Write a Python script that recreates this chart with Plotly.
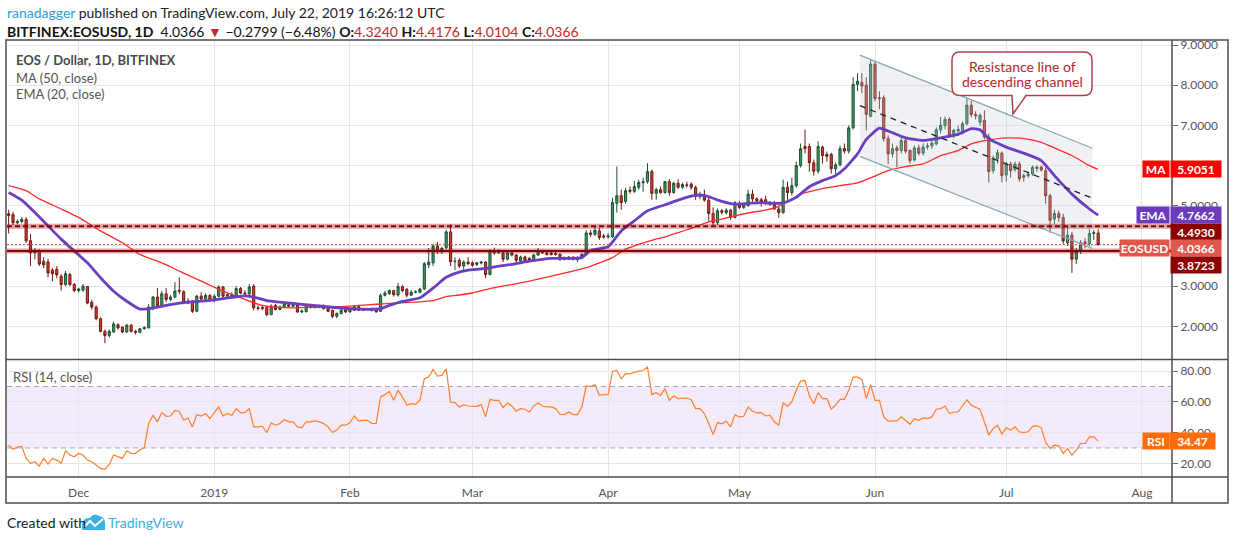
import pandas as pd
import plotly.graph_objects as go

# ---------------- data ----------------
start_date = "2018-11-15"

open_px = [
    # Nov 15-30
    4.80, 4.78, 4.58, 4.61, 4.66, 4.13, 3.83, 3.87, 3.62, 3.60, 3.40, 3.42, 3.25, 3.04, 3.29, 3.04,
    # Dec
    2.89, 2.90, 2.99, 2.60, 2.48, 2.19, 1.875, 1.77, 1.86, 2.04, 1.98, 1.86, 2.03, 1.88, 1.85, 1.94,
    1.96, 2.47, 2.73, 2.52, 2.81, 2.67, 2.73, 2.90, 2.86, 2.58, 2.63, 2.375, 2.75, 2.68, 2.77,
    # Jan
    2.64, 2.75, 2.98, 2.75, 2.79, 2.73, 2.94, 2.83, 2.81, 3.00, 2.46, 2.47, 2.47, 2.29, 2.52, 2.42,
    2.48, 2.54, 2.50, 2.52, 2.36, 2.37, 2.49, 2.47, 2.475, 2.49, 2.46, 2.40, 2.25, 2.32, 2.41,
    # Feb
    2.36, 2.40, 2.49, 2.40, 2.43, 2.43, 2.42, 2.375, 2.77, 2.81, 2.89, 2.78, 2.99, 2.925, 2.775, 2.85,
    2.85, 2.93, 3.53, 3.58, 4.00, 3.85, 3.96, 4.35, 3.61, 3.64, 3.50, 3.60,
    # Mar
    3.58, 3.54, 3.575, 3.60, 3.29, 3.875, 3.83, 3.83, 3.67, 3.825, 3.775, 3.625, 3.725, 3.69, 3.64, 3.775,
    3.875, 3.825, 3.825, 3.81, 3.79, 3.71, 3.67, 3.725, 3.66, 3.71, 3.79, 4.325, 4.29, 4.375, 4.25,
    # Apr
    4.225, 4.225, 5.06, 5.25, 5.11, 5.39, 5.36, 5.46, 5.575, 5.60, 5.85, 5.31, 5.40, 5.33, 5.60,
    5.33, 5.56, 5.46, 5.52, 5.54, 5.46, 5.23, 5.27, 5.14, 4.81, 4.58, 4.875, 4.83, 4.89, 4.71,
    # May
    5.06, 4.96, 5.00, 5.29, 5.17, 5.15, 5.15, 5.06, 5.075, 4.92, 4.83, 5.46, 5.33, 5.50, 6.00, 6.475,
    6.475, 6.07, 5.86, 6.46, 6.275, 6.275, 5.92, 6.02, 6.425, 6.36, 6.94, 8.02, 8.07, 8.00, 7.225,
    # Jun
    8.525, 7.685, 7.69, 6.67, 6.29, 6.44, 6.375, 6.625, 6.375, 6.14, 6.44, 6.31, 6.46, 6.49, 6.54,
    6.89, 7.00, 7.15, 6.75, 6.86, 6.81, 7.04, 7.50, 7.27, 7.08, 7.125, 6.71, 5.875, 6.17, 6.31,
    # Jul 1-22
    5.77, 6.04, 5.90, 6.04, 5.71, 5.75, 5.79, 5.93, 5.96, 5.875, 5.25, 4.67, 4.81, 4.71, 4.08, 4.27,
    3.67, 3.875, 4.10, 4.06, 4.31, 4.3240,
]

high_px = [
    4.90, 4.85, 4.66, 4.72, 4.72, 4.30, 3.95, 3.92, 3.72, 3.68, 3.45, 3.50, 3.30, 3.38, 3.33, 3.08,
    2.96, 3.05, 3.00, 2.66, 2.52, 2.22, 1.92, 1.92, 2.12, 2.08, 2.00, 2.06, 2.05, 1.90, 1.96, 2.00,
    2.55, 2.75, 2.95, 2.88, 2.95, 2.78, 3.10, 3.22, 2.90, 2.70, 2.65, 2.78, 2.85, 2.82, 2.80,
    2.80, 3.02, 3.00, 2.82, 2.85, 3.00, 2.98, 2.90, 3.05, 3.05, 2.52, 2.50, 2.50, 2.55, 2.56, 2.52,
    2.60, 2.58, 2.60, 2.55, 2.42, 2.52, 2.53, 2.52, 2.54, 2.55, 2.48, 2.42, 2.34, 2.43, 2.44,
    2.43, 2.52, 2.50, 2.46, 2.46, 2.45, 2.44, 2.82, 2.88, 2.92, 2.91, 3.08, 3.02, 2.95, 2.90, 2.90,
    2.96, 3.60, 3.95, 4.05, 4.10, 3.98, 4.40, 4.54, 3.72, 3.70, 3.64, 3.72,
    3.62, 3.60, 3.62, 3.62, 3.92, 3.96, 3.92, 3.88, 3.86, 3.85, 3.80, 3.76, 3.76, 3.72, 3.80, 3.95,
    3.90, 3.90, 3.86, 3.86, 3.82, 3.74, 3.75, 3.74, 3.74, 3.82, 4.39, 4.40, 4.48, 4.45, 4.30,
    4.32, 5.20, 5.975, 5.40, 5.45, 5.48, 5.62, 5.65, 5.70, 6.06, 5.90, 5.45, 5.48, 5.62, 5.66,
    5.60, 5.66, 5.58, 5.60, 5.58, 5.50, 5.35, 5.40, 5.20, 4.96, 4.93, 4.92, 4.94, 4.92, 5.12,
    5.12, 5.06, 5.40, 5.40, 5.22, 5.20, 5.25, 5.12, 5.12, 5.00, 5.65, 5.60, 5.70, 6.10, 6.55, 6.90,
    6.55, 6.15, 6.60, 6.50, 6.35, 6.32, 6.08, 6.50, 6.55, 7.00, 8.20, 8.30, 8.30, 8.20, 8.625,
    8.60, 7.85, 7.75, 6.75, 6.55, 6.50, 6.75, 6.70, 6.40, 6.50, 6.52, 6.55, 6.56, 6.62, 6.95,
    7.21, 7.22, 7.20, 6.92, 7.00, 7.10, 7.67, 7.62, 7.35, 7.30, 7.375, 6.80, 6.25, 6.40, 6.35,
    6.10, 6.10, 6.10, 6.10, 5.80, 5.85, 6.00, 6.00, 6.00, 5.95, 5.30, 4.90, 4.88, 4.80, 4.50, 4.35,
    3.95, 4.15, 4.20, 4.42, 4.40, 4.4176,
]

low_px = [
    4.31, 4.52, 4.54, 4.57, 4.08, 3.50, 3.67, 3.50, 3.45, 3.22, 3.12, 3.20, 2.89, 3.00, 3.00, 2.85,
    2.84, 2.86, 2.55, 2.42, 2.15, 1.85, 1.58, 1.72, 1.84, 1.92, 1.83, 1.84, 1.85, 1.80, 1.83, 1.92,
    1.95, 2.40, 2.45, 2.50, 2.60, 2.62, 2.70, 2.80, 2.55, 2.55, 2.33, 2.35, 2.65, 2.65, 2.62,
    2.60, 2.72, 2.72, 2.72, 2.70, 2.70, 2.80, 2.78, 2.78, 2.40, 2.40, 2.40, 2.25, 2.28, 2.40, 2.40,
    2.45, 2.47, 2.48, 2.33, 2.33, 2.34, 2.44, 2.44, 2.45, 2.42, 2.35, 2.20, 2.20, 2.30, 2.33,
    2.34, 2.38, 2.38, 2.38, 2.40, 2.37, 2.34, 2.36, 2.74, 2.78, 2.74, 2.74, 2.85, 2.72, 2.76, 2.82,
    2.82, 2.90, 3.45, 3.50, 3.80, 3.80, 3.92, 3.50, 3.40, 3.45, 3.40, 3.52,
    3.48, 3.50, 3.54, 3.20, 3.27, 3.78, 3.80, 3.60, 3.64, 3.74, 3.60, 3.58, 3.62, 3.60, 3.62, 3.76,
    3.80, 3.76, 3.76, 3.76, 3.62, 3.64, 3.65, 3.64, 3.60, 3.68, 3.77, 4.22, 4.25, 4.15, 4.18,
    4.18, 4.20, 4.83, 4.90, 5.05, 5.30, 5.32, 5.40, 5.35, 5.55, 5.15, 5.15, 5.30, 5.30, 5.25,
    5.30, 5.42, 5.42, 5.45, 5.40, 5.15, 5.16, 5.10, 4.625, 4.50, 4.52, 4.78, 4.78, 4.65, 4.68,
    4.92, 4.92, 4.98, 5.10, 5.05, 4.98, 5.02, 5.00, 4.90, 4.70, 4.80, 5.15, 5.25, 5.45, 5.95, 6.30,
    5.85, 5.75, 5.80, 6.05, 6.10, 5.80, 5.75, 5.98, 6.30, 6.30, 6.90, 7.85, 7.80, 6.875, 7.20,
    7.60, 7.40, 6.60, 6.04, 6.20, 5.96, 6.30, 6.30, 6.05, 6.10, 6.25, 6.25, 6.40, 6.42, 6.50,
    6.80, 6.90, 6.70, 6.68, 6.80, 6.78, 7.00, 7.20, 7.15, 7.00, 6.65, 5.58, 5.80, 6.05, 5.58,
    5.60, 5.70, 5.85, 5.60, 5.60, 5.70, 5.75, 5.85, 5.85, 5.05, 4.33, 4.55, 4.60, 4.05, 4.00, 3.33,
    3.55, 3.80, 3.95, 4.00, 4.15, 4.0104,
]

close_px = [
    4.76, 4.58, 4.61, 4.66, 4.13, 3.83, 3.87, 3.55, 3.53, 3.33, 3.31, 3.28, 3.04, 3.31, 3.04, 2.89,
    2.93, 3.00, 2.58, 2.48, 2.19, 1.875, 1.77, 1.875, 2.06, 1.96, 1.86, 2.03, 1.875, 1.85, 1.94, 1.97,
    2.48, 2.73, 2.52, 2.81, 2.67, 2.73, 2.88, 2.875, 2.58, 2.63, 2.375, 2.75, 2.68, 2.77, 2.64,
    2.75, 2.98, 2.75, 2.79, 2.73, 2.94, 2.83, 2.81, 2.98, 2.46, 2.45, 2.45, 2.29, 2.50, 2.42, 2.48,
    2.56, 2.50, 2.54, 2.36, 2.38, 2.50, 2.47, 2.49, 2.51, 2.44, 2.375, 2.25, 2.325, 2.40, 2.36,
    2.41, 2.49, 2.40, 2.44, 2.42, 2.40, 2.36, 2.77, 2.83, 2.89, 2.79, 2.99, 2.89, 2.775, 2.85, 2.855,
    2.925, 3.56, 3.60, 4.00, 3.86, 3.94, 4.35, 3.61, 3.62, 3.50, 3.60, 3.56,
    3.52, 3.58, 3.60, 3.29, 3.875, 3.83, 3.86, 3.67, 3.83, 3.775, 3.64, 3.725, 3.64, 3.64, 3.775, 3.89,
    3.83, 3.79, 3.79, 3.79, 3.67, 3.67, 3.725, 3.67, 3.71, 3.79, 4.325, 4.29, 4.39, 4.21, 4.225,
    4.25, 5.08, 5.25, 5.08, 5.375, 5.36, 5.475, 5.58, 5.60, 5.85, 5.31, 5.40, 5.33, 5.60, 5.33,
    5.56, 5.46, 5.53, 5.51, 5.46, 5.23, 5.27, 5.14, 4.81, 4.58, 4.875, 4.84, 4.89, 4.71, 5.075,
    4.96, 5.02, 5.29, 5.17, 5.125, 5.11, 5.06, 5.04, 4.92, 4.83, 5.46, 5.33, 5.50, 6.00, 6.42, 6.42,
    6.07, 5.86, 6.475, 6.25, 6.23, 5.92, 6.02, 6.42, 6.36, 6.94, 8.02, 8.10, 7.98, 7.275, 8.525,
    7.67, 7.67, 6.67, 6.29, 6.42, 6.375, 6.625, 6.36, 6.125, 6.44, 6.31, 6.46, 6.49, 6.56, 6.89,
    7.00, 7.15, 6.75, 6.875, 6.90, 7.04, 7.50, 7.27, 7.24, 7.25, 6.71, 5.85, 6.19, 6.32, 5.75,
    6.04, 5.875, 6.04, 5.67, 5.75, 5.79, 5.96, 5.96, 5.89, 5.25, 4.64, 4.81, 4.71, 4.125, 4.27, 3.67,
    3.875, 4.08, 4.06, 4.31, 4.33, 4.0366,
]

rsi_vals = [
    31.8, 29.2, 30.5, 31.0, 23.2, 20.0, 21.0, 18.2, 23.2, 19.5, 23.2, 22.1, 20.0, 28.2, 25.4, 24.3,
    26.4, 25.4, 22.1, 21.0, 18.9, 16.7, 16.1, 19.3, 25.4, 24.3, 23.2, 28.2, 26.4, 26.4, 28.8, 30.1,
    45.9,
    51.3, 47.0, 53.0, 50.6, 50.8, 54.5, 53.9, 48.0, 49.5, 43.7, 51.7, 50.8, 52.4, 49.1, 53.0, 56.7,
    50.8, 52.4, 51.3, 55.6, 53.0, 53.0, 55.6, 43.7, 43.7, 44.1, 40.0, 46.3, 44.8, 45.9, 48.5, 47.0,
    47.0, 43.7, 43.3, 47.0, 47.0, 47.6, 47.0, 45.9, 43.7, 40.0, 41.6, 44.8, 44.8, 46.3, 50.8, 47.4,
    48.0, 48.0, 45.9, 45.9,
    63.2, 64.7, 66.8, 61.0, 67.5, 63.2, 57.8, 58.8, 58.4, 61.0,
    75.0, 76.1, 81.1, 76.8, 77.2, 81.5,
    59.9, 59.5, 56.7, 58.2, 57.3, 57.1, 57.1, 58.2, 50.2, 61.6, 61.0, 61.0, 56.2, 59.3, 57.3, 53.9,
    55.6, 55.2, 53.4, 57.3, 59.3, 57.3, 56.7, 56.7, 55.6, 51.9, 51.7, 53.4, 51.7, 51.7, 56.7,
    70.3, 70.1, 71.1, 64.2, 64.7, 64.7, 79.8, 80.4,
    75.0, 78.3, 78.3, 79.4, 80.0, 80.4, 82.6, 64.7, 66.0, 64.2, 68.6, 61.0, 63.8, 62.1, 62.5, 62.5,
    61.4, 55.6, 55.6, 52.4, 45.9, 38.7, 46.5, 45.7, 47.4, 43.7, 51.7, 50.2, 50.6, 56.7, 53.9, 52.8,
    53.0, 50.8, 51.3, 47.0, 44.8, 59.3, 57.1, 59.9, 67.5, 73.5, 74.0, 63.8, 58.8, 66.0, 62.1, 62.1,
    55.2, 57.8, 61.6, 61.6, 67.5, 76.1, 76.1, 74.6, 62.1, 71.1, 61.0, 61.0, 50.2, 47.4, 47.6, 47.6,
    50.2, 47.6, 45.4, 49.1, 48.0, 49.5, 49.1, 50.2, 55.2, 55.6, 57.3, 52.4, 53.4, 53.4, 57.8, 61.4,
    57.8, 56.7, 55.2, 47.0, 38.3, 42.6, 44.8, 39.0, 43.1, 41.6, 43.7, 40.5, 40.0, 40.5, 44.1, 44.4,
    43.1, 33.6, 29.7, 31.8, 31.4, 26.4, 29.7, 25.4, 28.6, 32.9, 32.9, 37.2, 37.2, 34.47,
]

ema_dates = ["2018-11-15", "2018-11-18", "2018-11-21", "2018-11-24", "2018-11-27", "2018-11-30",
             "2018-12-03", "2018-12-06", "2018-12-09", "2018-12-12", "2018-12-15", "2018-12-17",
             "2018-12-20", "2018-12-23", "2018-12-26", "2018-12-29",
             "2019-01-01", "2019-01-05", "2019-01-08", "2019-01-10", "2019-01-13", "2019-01-16",
             "2019-01-19", "2019-01-23", "2019-01-28",
             "2019-02-01", "2019-02-06", "2019-02-08", "2019-02-10", "2019-02-13", "2019-02-17",
             "2019-02-20", "2019-02-23", "2019-02-26",
             "2019-03-01", "2019-03-04", "2019-03-07", "2019-03-10", "2019-03-14", "2019-03-19",
             "2019-03-24", "2019-03-26", "2019-03-28",
             "2019-04-01", "2019-04-04", "2019-04-07", "2019-04-10", "2019-04-14", "2019-04-17",
             "2019-04-20", "2019-04-22", "2019-04-24", "2019-04-27", "2019-04-30",
             "2019-05-03", "2019-05-06", "2019-05-09", "2019-05-11", "2019-05-14", "2019-05-17",
             "2019-05-20", "2019-05-23", "2019-05-25", "2019-05-28", "2019-05-30",
             "2019-06-02", "2019-06-04", "2019-06-08", "2019-06-12", "2019-06-16", "2019-06-20",
             "2019-06-23", "2019-06-25", "2019-06-27",
             "2019-07-01", "2019-07-05", "2019-07-09", "2019-07-12", "2019-07-16", "2019-07-20",
             "2019-07-22"]
ema_vals = [5.33, 5.14, 4.83, 4.50, 4.17, 3.875,
            3.58, 3.21, 2.875, 2.625, 2.43, 2.44, 2.50, 2.56, 2.60, 2.625,
            2.66, 2.72, 2.76, 2.73, 2.64, 2.60, 2.57, 2.525, 2.475,
            2.44, 2.425, 2.44, 2.52, 2.62, 2.71, 2.95, 3.22, 3.35,
            3.41, 3.44, 3.50, 3.54, 3.62, 3.69, 3.69, 3.71, 3.89,
            3.98, 4.375, 4.625, 4.875, 5.025, 5.14, 5.24, 5.27, 5.225, 5.11, 5.04,
            5.06, 5.08, 5.06, 5.07, 5.21, 5.475, 5.625, 5.75, 5.92, 6.29, 6.65,
            6.93, 6.86, 6.69, 6.625, 6.69, 6.775, 6.92, 6.89, 6.67,
            6.46, 6.31, 6.125, 5.75, 5.29, 4.92, 4.7662]

ma_dates = ["2018-11-15", "2018-11-19", "2018-11-22", "2018-11-27",
            "2018-12-01", "2018-12-06", "2018-12-11", "2018-12-15", "2018-12-20", "2018-12-24", "2018-12-29",
            "2019-01-03", "2019-01-08", "2019-01-12", "2019-01-16", "2019-01-19", "2019-01-22", "2019-01-26",
            "2019-01-30",
            "2019-02-03", "2019-02-07", "2019-02-10", "2019-02-17", "2019-02-20", "2019-02-23", "2019-02-26",
            "2019-03-01", "2019-03-05", "2019-03-10", "2019-03-14", "2019-03-19", "2019-03-24", "2019-03-27",
            "2019-03-30",
            "2019-04-02", "2019-04-05", "2019-04-08", "2019-04-11", "2019-04-14", "2019-04-17", "2019-04-20",
            "2019-04-24", "2019-04-27", "2019-04-30",
            "2019-05-03", "2019-05-06", "2019-05-09", "2019-05-12", "2019-05-15", "2019-05-18", "2019-05-21",
            "2019-05-24", "2019-05-28",
            "2019-06-01", "2019-06-04", "2019-06-08", "2019-06-12", "2019-06-16", "2019-06-20", "2019-06-23",
            "2019-06-27",
            "2019-07-01", "2019-07-05", "2019-07-09", "2019-07-12", "2019-07-16", "2019-07-20", "2019-07-22"]
ma_vals = [5.50, 5.375, 5.17, 4.92,
           4.71, 4.375, 4.08, 3.79, 3.58, 3.375, 3.125,
           2.875, 2.67, 2.52, 2.47, 2.46, 2.47, 2.47, 2.49,
           2.52, 2.55, 2.57, 2.61, 2.64, 2.74, 2.78,
           2.83, 2.94, 3.04, 3.125, 3.25, 3.375, 3.46, 3.58,
           3.71, 3.92, 4.04, 4.14, 4.225, 4.33, 4.44, 4.60, 4.67, 4.75,
           4.82, 4.875, 4.94, 5.10, 5.29, 5.375, 5.45, 5.50, 5.57,
           5.74, 5.875, 5.975, 6.04, 6.25, 6.375, 6.54, 6.64,
           6.69, 6.67, 6.58, 6.44, 6.25, 6.00, 5.9051]

channel_dates = ["2019-05-28 13:00", "2019-07-20 16:00"]
channel_upper = [8.75, 6.43]
channel_mid = [7.49, 5.19]
channel_lower = [6.23, 3.94]

resistance_level = 4.4930
support_level = 3.8723
last_close = 4.0366
ma_last = 5.9051
ema_last = 4.7662
rsi_last = 34.47

price_ticks = [2, 3, 4, 5, 6, 7, 8, 9]
hidden_price_ticks = [4, 6]          # covered by the value tags in the reference
rsi_ticks = [20, 40, 60, 80]
month_ticks = ["2018-12-01", "2019-01-01", "2019-02-01", "2019-03-01", "2019-04-01",
               "2019-05-01", "2019-06-01", "2019-07-01", "2019-08-01"]
month_labels = ["Dec", "2019", "Feb", "Mar", "Apr", "May", "Jun", "Jul", "Aug"]

# ---------------- layout helpers (pixel -> paper) ----------------
W, H = 1234, 540
L_M, R_M, T_M, B_M = 7, 62, 41, 63
PW = W - L_M - R_M
PH = H - T_M - B_M


def PX(px):
    return (px - L_M) / PW


def PY(py):
    return (H - B_M - py) / PH


FONT = "Lato, 'Open Sans', sans-serif"
GRID = "#e6e6e6"
FRAME = "#4d4d4d"
DARKRED = "#8e0000"

dates = pd.date_range(start_date, periods=len(close_px), freq="D")
rsi_dates = pd.date_range(start_date, periods=len(rsi_vals), freq="D")

fig = go.Figure()

# channel shading
fig.add_trace(go.Scatter(
    x=[channel_dates[0], channel_dates[1], channel_dates[1], channel_dates[0], channel_dates[0]],
    y=[channel_upper[0], channel_upper[1], channel_lower[1], channel_lower[0], channel_upper[0]],
    fill="toself", fillcolor="rgba(196,204,214,0.28)", line=dict(width=0),
    mode="lines", hoverinfo="skip", showlegend=False, xaxis="x", yaxis="y"))

fig.add_trace(go.Candlestick(
    x=dates, open=open_px, high=high_px, low=low_px, close=close_px,
    increasing=dict(fillcolor="#3f9a63", line=dict(color="#1f4f33", width=1)),
    decreasing=dict(fillcolor="#d83f2e", line=dict(color="#6e1a14", width=1)),
    whiskerwidth=0, hoverinfo="skip", showlegend=False, xaxis="x", yaxis="y"))

fig.add_trace(go.Scatter(x=ma_dates, y=ma_vals, mode="lines",
                         line=dict(color="#ff2b2b", width=1.3, shape="spline", smoothing=0.5),
                         hoverinfo="skip", showlegend=False, xaxis="x", yaxis="y"))
fig.add_trace(go.Scatter(x=ema_dates, y=ema_vals, mode="lines",
                         line=dict(color="#6a3fc0", width=2.8, shape="spline", smoothing=0.5),
                         hoverinfo="skip", showlegend=False, xaxis="x", yaxis="y"))

# channel lines
for ys in (channel_upper, channel_lower):
    fig.add_trace(go.Scatter(x=channel_dates, y=ys, mode="lines",
                             line=dict(color="#86a8b4", width=1.2),
                             hoverinfo="skip", showlegend=False, xaxis="x", yaxis="y"))
fig.add_trace(go.Scatter(x=channel_dates, y=channel_mid, mode="lines",
                         line=dict(color="#222222", width=1.3, dash="6px,5px"),
                         hoverinfo="skip", showlegend=False, xaxis="x", yaxis="y"))

# RSI
fig.add_trace(go.Scatter(x=rsi_dates, y=rsi_vals, mode="lines",
                         line=dict(color="#ff7f2a", width=1.2),
                         hoverinfo="skip", showlegend=False, xaxis="x2", yaxis="y2"))

shapes = []
# horizontal levels
shapes.append(dict(type="line", xref="paper", yref="y", x0=0, x1=1,
                   y0=resistance_level, y1=resistance_level,
                   line=dict(color="rgba(142,0,0,0.35)", width=5)))
shapes.append(dict(type="line", xref="paper", yref="y", x0=0, x1=1,
                   y0=resistance_level, y1=resistance_level,
                   line=dict(color=DARKRED, width=2, dash="5px,3px")))
shapes.append(dict(type="line", xref="paper", yref="y", x0=0, x1=1,
                   y0=support_level, y1=support_level,
                   line=dict(color="rgba(142,0,0,0.35)", width=5)))
shapes.append(dict(type="line", xref="paper", yref="y", x0=0, x1=1,
                   y0=support_level, y1=support_level,
                   line=dict(color=DARKRED, width=2)))
shapes.append(dict(type="line", xref="paper", yref="y", x0=0, x1=1,
                   y0=last_close, y1=last_close,
                   line=dict(color="#e0574a", width=1, dash="2px,2px")))
# RSI band
shapes.append(dict(type="rect", xref="paper", yref="y2", x0=0, x1=1, y0=30, y1=70,
                   fillcolor="rgba(156,82,230,0.12)", line=dict(width=0), layer="below"))
for lv in (30, 70):
    shapes.append(dict(type="line", xref="paper", yref="y2", x0=0, x1=1, y0=lv, y1=lv,
                       line=dict(color="#aaa2b6", width=1, dash="5px,4px")))


# frame
def hline(py, x0=6, x1=1228):
    return dict(type="line", xref="paper", yref="paper", x0=PX(x0), x1=PX(x1), y0=PY(py), y1=PY(py),
                line=dict(color=FRAME, width=1.5))


shapes.append(dict(type="rect", xref="paper", yref="paper", x0=PX(6), x1=PX(1228), y0=PY(503), y1=PY(40),
                   line=dict(color=FRAME, width=1.5)))
shapes.append(hline(359.5))
shapes.append(hline(477))
shapes.append(dict(type="line", xref="paper", yref="paper", x0=PX(1172), x1=PX(1172), y0=PY(503), y1=PY(40),
                   line=dict(color=FRAME, width=1.5)))

# callout bubble
bx0, by0, bx1, by1, r = 952, 52, 1092, 95.5, 8
tl, tr, tipx, tipy = 1012, 1026, 1013, 114


def P(x, y):
    return f"{PX(x):.5f},{PY(y):.5f}"


bubble = (f"M {P(bx0 + r, by0)} L {P(bx1 - r, by0)} Q {P(bx1, by0)} {P(bx1, by0 + r)} "
          f"L {P(bx1, by1 - r)} Q {P(bx1, by1)} {P(bx1 - r, by1)} L {P(tr, by1)} L {P(tipx, tipy)} "
          f"L {P(tl, by1)} L {P(bx0 + r, by1)} Q {P(bx0, by1)} {P(bx0, by1 - r)} L {P(bx0, by0 + r)} "
          f"Q {P(bx0, by0)} {P(bx0 + r, by0)} Z")
shapes.append(dict(type="path", xref="paper", yref="paper", path=bubble,
                   fillcolor="white", line=dict(color="#b04048", width=1.5)))

# TradingView logo (footer)
logo = (f"M {P(82, 530)} L {P(82, 524)} Q {P(84, 517)} {P(90, 518)} Q {P(94, 512)} {P(99, 516)} "
        f"Q {P(105, 517)} {P(105, 523)} L {P(105, 530)} Z")
shapes.append(dict(type="path", xref="paper", yref="paper", path=logo,
                   fillcolor="#3bb0e2", line=dict(width=0)))
shapes.append(dict(type="path", xref="paper", yref="paper",
                   path=f"M {P(84, 527)} L {P(90, 521)} L {P(95, 526)} L {P(103, 519)}",
                   line=dict(color="white", width=2)))

annotations = []


def txt(x, y, text, size=13, color="#444", xanchor="left", **kw):
    annotations.append(dict(xref="paper", yref="paper", x=PX(x), y=PY(y), text=text, showarrow=False,
                            xanchor=xanchor, yanchor="middle",
                            font=dict(family=FONT, size=size, color=color), **kw))


RED = "#c62828"
txt(5, 13, "<span style='color:#2f9bd8'>ranadagger</span> published on TradingView.com, July 22, 2019 16:26:12 UTC",
    size=14, color="#222")
txt(5, 32, "<b>BITFINEX:EOSUSD, 1D</b>  4.0366 <span style='color:#c62828'>▼</span> −0.2799 (−6.48%) "
    f"<b>O:</b><span style='color:{RED}'>4.3240</span> <b>H:</b><span style='color:{RED}'>4.4176</span> "
    f"<b>L:</b><span style='color:{RED}'>4.0104</span> <b>C:</b><span style='color:{RED}'>4.0366</span>",
    size=14, color="#111")
txt(14, 60, "<b>EOS / Dollar, 1D, BITFINEX</b>", size=13, color="#4a4a4a")
txt(14, 77.5, "MA (50, close)", size=13, color="#555")
txt(14, 94.5, "EMA (20, close)", size=13, color="#555")
txt(11, 377, "RSI (14, close)", size=13, color="#555")
txt(1022, 66, "Resistance line of", size=14, color="#b3262a", xanchor="center")
txt(1022, 81, "descending channel", size=14, color="#b3262a", xanchor="center")
txt(5, 522, "Created with", size=14, color="#1a1a1a")
txt(106, 522, "TradingView", size=14, color="#3bb0e2")


def box(xc, yc, w, text, bg, h=16):
    annotations.append(dict(xref="paper", yref="paper", x=PX(xc), y=PY(yc), text=f"<b>{text}</b>",
                            showarrow=False, xanchor="center", yanchor="middle", width=w, height=h,
                            bgcolor=bg, borderpad=0, align="center",
                            font=dict(family=FONT, size=12, color="white")))


VX = 1196
box(1156, 169, 26, "MA", "#ff0000")
box(VX, 169, 50, f"{ma_last:.4f}", "#ff0000")
box(1153, 214.5, 32, "EMA", "#6a3bbd")
box(VX, 214.5, 50, f"{ema_last:.4f}", "#6a3bbd")
box(VX, 231.5, 50, f"{resistance_level:.4f}", DARKRED)
box(1144.5, 248.5, 49, "EOSUSD", "#e0584b")
box(VX, 248.5, 50, f"{last_close:.4f}", "#e0584b")
box(VX, 265.3, 50, f"{support_level:.4f}", DARKRED)
box(1156, 441, 26, "RSI", "#ff6d0a")
box(1192.5, 441, 45, f"{rsi_last:.2f}", "#ff6d0a")

x_range = ["2018-11-14 15:00", "2019-08-07 21:00"]
axis_font = dict(family=FONT, size=12, color="#555")

fig.update_layout(
    width=W, height=H,
    margin=dict(l=L_M, r=R_M, t=T_M, b=B_M, pad=0),
    paper_bgcolor="white", plot_bgcolor="white",
    font=dict(family=FONT),
    showlegend=False,
    hovermode=False,
    xaxis=dict(domain=[0, 1], anchor="y", range=x_range, type="date",
               tickvals=month_ticks, ticktext=month_labels, showticklabels=False,
               showgrid=True, gridcolor=GRID, gridwidth=1, zeroline=False,
               rangeslider=dict(visible=False), showline=False, ticks=""),
    xaxis2=dict(domain=[0, 1], anchor="y2", matches="x", range=x_range, type="date",
                tickvals=month_ticks, ticktext=month_labels, showticklabels=True,
                tickfont=axis_font, ticks="outside", ticklen=5, tickcolor="rgba(0,0,0,0)",
                showgrid=True, gridcolor=GRID, gridwidth=1, zeroline=False, showline=False),
    yaxis=dict(domain=[PY(359.5), 1], anchor="x", side="right", range=[1.175, 9.1],
               tickvals=price_ticks,
               ticktext=["" if v in hidden_price_ticks else f"{v:.4f}" for v in price_ticks],
               tickfont=axis_font, ticks="outside", ticklen=5, tickcolor="#666",
               showgrid=True, gridcolor=GRID, gridwidth=1, zeroline=False, showline=False),
    yaxis2=dict(domain=[0, PY(360.5)], anchor="x2", side="right", range=[11.1, 86.9],
                tickvals=rsi_ticks, ticktext=[f"{v:.2f}" for v in rsi_ticks],
                tickfont=axis_font, ticks="outside", ticklen=5, tickcolor="#666",
                showgrid=True, gridcolor=GRID, gridwidth=1, zeroline=False, showline=False),
    shapes=shapes,
    annotations=annotations,
)

fig.write_html("out.html", config={"displayModeBar": False, "staticPlot": True},
               post_script="document.body.style.margin='0px';")
